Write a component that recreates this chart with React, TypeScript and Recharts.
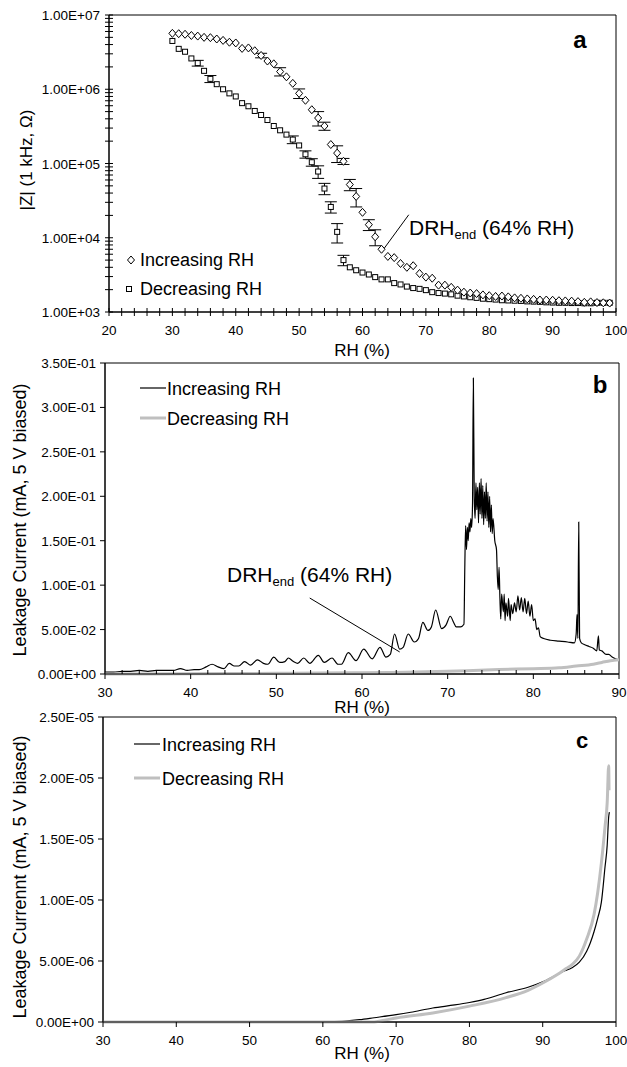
import {
  ErrorBar,
  Line,
  LineChart,
  ReferenceArea,
  ReferenceLine,
  Scatter,
  ScatterChart,
  XAxis,
  YAxis,
} from "recharts";

const FONT = '"Liberation Sans", Arial, sans-serif';
const GRAY = "#bfbfbf";

// ---- panel a: |Z| at 1 kHz vs RH ----
const rhA = [
  30, 31, 32, 33, 34, 35, 36, 37, 38, 39, 40, 41, 42, 43, 44, 45, 46, 47, 48, 49,
  50, 51, 52, 53, 54, 55, 56, 57, 58, 59, 60, 61, 62, 63, 64, 65, 66, 67, 68, 69,
  70, 71, 72, 73, 74, 75, 76, 77, 78, 79, 80, 81, 82, 83, 84, 85, 86, 87, 88, 89,
  90, 91, 92, 93, 94, 95, 96, 97, 98, 99,
];
const zIncreasing = [
  5.66e6, 5.6e6, 5.5e6, 5.3e6, 5.2e6, 5.0e6, 4.95e6, 4.75e6, 4.55e6, 4.3e6,
  4.2e6, 3.55e6, 3.6e6, 3.3e6, 2.85e6, 2.4e6, 2.2e6, 1.73e6, 1.47e6, 1.2e6,
  8.8e5, 7.1e5, 5.3e5, 4.1e5, 3.2e5, 1.8e5, 1.38e5, 1.07e5, 5.2e4, 3.6e4,
  2.2e4, 1.5e4, 1.03e4, 7.0e3, 5.6e3, 5.4e3, 4.5e3, 4.0e3, 4.2e3, 3.3e3,
  2.95e3, 2.85e3, 2.3e3, 2.3e3, 2.15e3, 1.97e3, 1.85e3, 1.8e3, 1.77e3, 1.7e3,
  1.66e3, 1.62e3, 1.64e3, 1.6e3, 1.55e3, 1.53e3, 1.5e3, 1.48e3, 1.45e3, 1.45e3,
  1.44e3, 1.42e3, 1.41e3, 1.4e3, 1.38e3, 1.35e3, 1.37e3, 1.34e3, 1.33e3, 1.32e3,
];
const zDecreasing = [
  4.47e6, 3.5e6, 3.2e6, 2.6e6, 2.25e6, 1.77e6, 1.38e6, 1.17e6, 1.0e6, 8.8e5,
  8.0e5, 6.5e5, 5.9e5, 5.1e5, 4.5e5, 3.85e5, 3.2e5, 2.8e5, 2.45e5, 2.1e5,
  1.75e5, 1.33e5, 1.04e5, 7.8e4, 4.6e4, 2.6e4, 1.2e4, 5.0e3, 4.0e3, 3.65e3,
  3.4e3, 3.2e3, 2.95e3, 2.75e3, 2.75e3, 2.45e3, 2.35e3, 2.2e3, 2.1e3, 2.05e3,
  1.97e3, 1.85e3, 1.8e3, 1.77e3, 1.73e3, 1.66e3, 1.62e3, 1.58e3, 1.55e3, 1.51e3,
  1.49e3, 1.47e3, 1.44e3, 1.43e3, 1.42e3, 1.41e3, 1.39e3, 1.38e3, 1.37e3, 1.35e3,
  1.34e3, 1.33e3, 1.33e3, 1.32e3, 1.32e3, 1.31e3, 1.31e3, 1.33e3, 1.33e3, 1.33e3,
];
// error bars (only where visible)
const errIncRH = [44, 47, 50, 53, 54, 56, 57, 58, 59, 61, 62];
const errIncVal = [2.0e5, 2.2e5, 1.3e5, 0.9e5, 0.4e5, 0.35e5, 1.0e4, 0.9e4, 1.0e4, 2.5e3, 2.5e3];
const errDecRH = [34, 36, 49, 51, 52, 53, 54, 55, 56, 57];
const errDecVal = [2.0e5, 1.5e5, 2.5e4, 1.5e4, 1.2e4, 1.5e4, 0.8e4, 0.45e4, 3.5e3, 0.8e3];

const xTicksA = [
  20, 22, 24, 26, 28, 30, 32, 34, 36, 38, 40, 42, 44, 46, 48, 50, 52, 54, 56, 58, 60,
  62, 64, 66, 68, 70, 72, 74, 76, 78, 80, 82, 84, 86, 88, 90, 92, 94, 96, 98, 100,
];
const yTicksA = [
  1e3, 2e3, 3e3, 4e3, 5e3, 6e3, 7e3, 8e3, 9e3,
  1e4, 2e4, 3e4, 4e4, 5e4, 6e4, 7e4, 8e4, 9e4,
  1e5, 2e5, 3e5, 4e5, 5e5, 6e5, 7e5, 8e5, 9e5,
  1e6, 2e6, 3e6, 4e6, 5e6, 6e6, 7e6, 8e6, 9e6,
  1e7,
];

// ---- panel b: leakage current vs RH (30-90) ----
const bIncRH = [
  30, 31, 32, 33, 34, 35, 36, 37, 38, 38.8, 39.6, 40.4, 41, 41.8, 42.5, 43.2, 43.9,
  44.5, 45.1, 45.6, 46.3, 47, 47.8, 48.5, 49, 49.7, 50.4, 51, 51.4, 52, 52.5, 53.2,
  53.9, 54.9, 55.6, 56.5, 57.2, 57.6, 58.4, 59.3, 60.2, 61.2, 62.1, 62.8, 63.3, 63.8,
  64.4, 64.8, 65.4, 66.1, 66.6, 67.1, 67.7, 68.1, 68.6, 69.3, 69.8, 70.3, 70.7, 71,
  71.5, 71.9, 72, 72.1, 72.2, 72.3, 72.4, 72.5, 72.6, 72.7, 72.8, 72.9, 73, 73.1,
  73.2, 73.3, 73.4, 73.5, 73.6, 73.7, 73.8, 73.9, 74, 74.1, 74.2, 74.3, 74.4, 74.5,
  74.6, 74.7, 74.8, 74.9, 75, 75.1, 75.2, 75.3, 75.5, 75.7, 75.8, 75.9, 76, 76.1,
  76.2, 76.3, 76.5, 76.6, 76.7, 76.8, 77, 77.1, 77.3, 77.4, 77.6, 77.8, 78, 78.2,
  78.4, 78.6, 78.8, 79, 79.2, 79.4, 79.6, 79.8, 80, 80.2, 80.4, 80.6, 80.8, 81.2,
  82, 83, 84, 84.8, 85, 85.1, 85.2, 85.3, 85.4, 85.6, 86, 86.5, 87, 87.4, 87.6,
  87.7, 88, 88.5, 88.8, 89.2, 89.6, 90,
];
const bIncI = [
  0.002, 0.002, 0.003, 0.003, 0.004, 0.003, 0.004, 0.004, 0.004, 0.006, 0.004, 0.005,
  0.005, 0.008, 0.011, 0.008, 0.006, 0.012, 0.009, 0.009, 0.014, 0.01, 0.016, 0.012,
  0.011, 0.019, 0.013, 0.014, 0.018, 0.014, 0.012, 0.018, 0.012, 0.021, 0.013, 0.018,
  0.011, 0.011, 0.024, 0.015, 0.028, 0.017, 0.03, 0.019, 0.022, 0.045, 0.028, 0.03,
  0.045, 0.036, 0.04, 0.058, 0.049, 0.053, 0.072, 0.051, 0.055, 0.065, 0.058, 0.053,
  0.053, 0.056, 0.12, 0.167, 0.14, 0.165, 0.15, 0.17, 0.16, 0.175, 0.165, 0.19, 0.333,
  0.2, 0.175, 0.215, 0.185, 0.21, 0.17, 0.215, 0.18, 0.22, 0.175, 0.212, 0.168, 0.205,
  0.175, 0.215, 0.172, 0.205, 0.165, 0.2, 0.16, 0.19, 0.158, 0.175, 0.15, 0.14, 0.11,
  0.095, 0.12, 0.085, 0.062, 0.09, 0.07, 0.09, 0.06, 0.08, 0.065, 0.085, 0.06, 0.078,
  0.068, 0.08, 0.07, 0.088, 0.072, 0.086, 0.07, 0.085, 0.068, 0.082, 0.065, 0.078,
  0.06, 0.062, 0.05, 0.052, 0.042, 0.04, 0.038, 0.037, 0.036, 0.035, 0.045, 0.067,
  0.04, 0.171, 0.04, 0.035, 0.033, 0.031, 0.029, 0.026, 0.043, 0.027, 0.026, 0.022,
  0.022, 0.019, 0.017, 0.016,
];
const bDecRH = [30, 40, 50, 55, 60, 65, 70, 73, 76, 80, 83, 85, 87, 88, 89, 90];
const bDecI = [
  0.0, 0.0003, 0.0008, 0.001, 0.0015, 0.002, 0.003, 0.004, 0.005, 0.006, 0.007,
  0.009, 0.011, 0.013, 0.015, 0.016,
];
const xTicksB = [
  30, 32, 34, 36, 38, 40, 42, 44, 46, 48, 50, 52, 54, 56, 58, 60, 62, 64, 66, 68, 70,
  72, 74, 76, 78, 80, 82, 84, 86, 88, 90,
];
const yTicksB = [0, 0.05, 0.1, 0.15, 0.2, 0.25, 0.3, 0.35];

// ---- panel c: leakage current vs RH (30-100) ----
const cIncRH = [
  30, 60, 61, 63, 65, 67, 70, 72, 75, 78, 80, 82, 85, 88, 90, 92, 93, 94, 95, 96,
  96.5, 97, 97.5, 98, 98.5, 98.8, 99, 99.1,
];
const cIncI = [
  0, 0, 0.02e-6, 0.08e-6, 0.19e-6, 0.35e-6, 0.6e-6, 0.8e-6, 1.15e-6, 1.4e-6, 1.6e-6,
  1.85e-6, 2.4e-6, 2.85e-6, 3.3e-6, 3.9e-6, 4.2e-6, 4.45e-6, 4.9e-6, 5.8e-6, 6.5e-6,
  7.4e-6, 8.5e-6, 9.8e-6, 1.27e-5, 1.45e-5, 1.68e-5, 1.72e-5,
];
const cDecRH = [
  30, 67, 68, 70, 75, 80, 85, 88, 90, 92, 93, 94, 95, 96, 97, 97.5, 98, 98.5, 98.8,
  99, 99.05,
];
const cDecI = [
  0, 0, 0.1e-6, 0.33e-6, 0.74e-6, 1.3e-6, 2.0e-6, 2.6e-6, 3.2e-6, 3.9e-6, 4.3e-6,
  4.7e-6, 5.4e-6, 6.8e-6, 8.8e-6, 1.06e-5, 1.3e-5, 1.6e-5, 1.8e-5, 2.1e-5, 1.9e-5,
];
const xTicksC = [30, 40, 50, 60, 70, 80, 90, 100];
const yTicksC = [0, 5e-6, 1e-5, 1.5e-5, 2e-5, 2.5e-5];

// build series
const aInc = rhA.map((rh, i) => {
  const k = errIncRH.indexOf(rh);
  return { rh, z: zIncreasing[i], err: k >= 0 ? errIncVal[k] : null };
});
const aDec = rhA.map((rh, i) => {
  const k = errDecRH.indexOf(rh);
  return { rh, z: zDecreasing[i], err: k >= 0 ? errDecVal[k] : null };
});
const bInc = bIncRH.map((rh, i) => ({ rh, i: bIncI[i] }));
const bDec = bDecRH.map((rh, i) => ({ rh, i: bDecI[i] }));
const cInc = cIncRH.map((rh, i) => ({ rh, i: cIncI[i] }));
const cDec = cDecRH.map((rh, i) => ({ rh, i: cDecI[i] }));

const sci = (v: number) => {
  const [m, e] = v.toExponential(2).split("e");
  const sign = e[0] === "-" ? "-" : "+";
  const digits = e.replace(/[+-]/, "").padStart(2, "0");
  return `${m}E${sign}${digits}`;
};

const isDecade = (v: number) => Math.abs(Math.log10(v) - Math.round(Math.log10(v))) < 1e-9;

type TickOpts = {
  major: (v: number) => boolean;
  label: (v: number) => string;
  inMajor: number;
  outMajor: number;
  inMinor: number;
  outMinor: number;
};

const makeXTick = (o: TickOpts) => (props: any) => {
  const { x, y, payload } = props;
  const v = payload.value;
  const mj = o.major(v);
  return (
    <g>
      <line x1={x} x2={x} y1={y - (mj ? o.inMajor : o.inMinor)} y2={y + (mj ? o.outMajor : o.outMinor)} stroke="#000" />
      {mj && (
        <text x={x} y={y + 23} textAnchor="middle" fontSize={13.5} fontFamily={FONT} fill="#000">
          {o.label(v)}
        </text>
      )}
    </g>
  );
};

const makeYTick = (o: TickOpts) => (props: any) => {
  const { x, y, payload } = props;
  const v = payload.value;
  const mj = o.major(v);
  return (
    <g>
      <line x1={x - (mj ? o.outMajor : o.outMinor)} x2={x + (mj ? o.inMajor : o.inMinor)} y1={y} y2={y} stroke="#000" />
      {mj && (
        <text x={x - 9} y={y + 5} textAnchor="end" fontSize={13.5} fontFamily={FONT} fill="#000">
          {o.label(v)}
        </text>
      )}
    </g>
  );
};

const Diamond = (p: any) => (
  <path
    d={`M${p.cx},${p.cy - 4}L${p.cx + 3.5},${p.cy}L${p.cx},${p.cy + 4}L${p.cx - 3.5},${p.cy}Z`}
    fill="#fff"
    stroke="#000"
    strokeWidth={1}
  />
);
const Square = (p: any) => (
  <rect x={p.cx - 2.5} y={p.cy - 2.5} width={5} height={5} fill="#fff" stroke="#000" strokeWidth={1} />
);

const txt = { fontFamily: FONT, fill: "#000" };

const App = () => {
  return (
    <div style={{ position: "absolute", left: 0, top: 0, width: 627, height: 1067, background: "#fff" }}>
      {/* a */}
      <div style={{ position: "absolute", left: 0, top: 0 }}>
        <ScatterChart width={627} height={350} margin={{ top: 15, right: 11, bottom: 37, left: 108 }}>
          <XAxis
            type="number"
            dataKey="rh"
            domain={[20, 100]}
            ticks={xTicksA}
            interval={0}
            height={1}
            tickSize={0}
            tickMargin={0}
            stroke="#000"
            tick={makeXTick({ major: (v) => v % 10 === 0, label: String, inMajor: 4, outMajor: 4, inMinor: 4, outMinor: 4 })}
          />
          <YAxis
            type="number"
            dataKey="z"
            scale="log"
            domain={[1000, 1e7]}
            allowDataOverflow
            ticks={yTicksA}
            interval={0}
            width={1}
            tickSize={0}
            tickMargin={0}
            stroke="#000"
            tick={makeYTick({ major: isDecade, label: sci, inMajor: 4, outMajor: 4, inMinor: 4, outMinor: 4 })}
          />
          <ReferenceArea x1={20} x2={100} y1={1000} y2={1e7} fill="none" stroke="#000" strokeWidth={1} />
          <Scatter data={aDec} shape={Square} isAnimationActive={false}>
            <ErrorBar dataKey="err" direction="y" width={6} stroke="#000" strokeWidth={1} />
          </Scatter>
          <Scatter data={aInc} shape={Diamond} isAnimationActive={false}>
            <ErrorBar dataKey="err" direction="y" width={6} stroke="#000" strokeWidth={1} />
          </Scatter>
          <ReferenceLine
            segment={[
              { x: 63.1, y: 6600 },
              { x: 67.3, y: 20400 },
            ]}
            stroke="#000"
            strokeWidth={1}
          />
        </ScatterChart>
      </div>

      {/* b */}
      <div style={{ position: "absolute", left: 0, top: 340 }}>
        <LineChart width={627} height={370} margin={{ top: 23, right: 8, bottom: 35, left: 104 }}>
          <XAxis
            type="number"
            dataKey="rh"
            domain={[30, 90]}
            ticks={xTicksB}
            interval={0}
            height={1}
            tickSize={0}
            tickMargin={0}
            stroke="#000"
            allowDuplicatedCategory={false}
            tick={makeXTick({ major: (v) => v % 10 === 0, label: String, inMajor: 0, outMajor: 5, inMinor: 4, outMinor: 0 })}
          />
          <YAxis
            type="number"
            domain={[0, 0.35]}
            ticks={yTicksB}
            interval={0}
            width={1}
            tickSize={0}
            tickMargin={0}
            stroke="#000"
            tick={makeYTick({ major: () => true, label: sci, inMajor: 0, outMajor: 5, inMinor: 0, outMinor: 0 })}
          />
          <ReferenceArea x1={30} x2={90} y1={0} y2={0.35} fill="none" stroke="#000" strokeWidth={1} />
          <Line data={bInc} dataKey="i" type="monotone" stroke="#000" strokeWidth={1.2} dot={false} isAnimationActive={false} />
          <Line data={bDec} dataKey="i" type="monotone" stroke={GRAY} strokeWidth={3} dot={false} isAnimationActive={false} />
          <ReferenceLine
            segment={[
              { x: 53.9, y: 0.0855 },
              { x: 64.4, y: 0.0248 },
            ]}
            stroke="#000"
            strokeWidth={1}
          />
        </LineChart>
      </div>

      {/* c */}
      <div style={{ position: "absolute", left: 0, top: 700 }}>
        <LineChart width={627} height={367} margin={{ top: 17, right: 11, bottom: 44, left: 102 }}>
          <XAxis
            type="number"
            dataKey="rh"
            domain={[30, 100]}
            ticks={xTicksC}
            interval={0}
            height={1}
            tickSize={0}
            tickMargin={0}
            stroke="#000"
            allowDuplicatedCategory={false}
            tick={makeXTick({ major: () => true, label: String, inMajor: 0, outMajor: 5, inMinor: 0, outMinor: 0 })}
          />
          <YAxis
            type="number"
            domain={[0, 2.5e-5]}
            ticks={yTicksC}
            interval={0}
            width={1}
            tickSize={0}
            tickMargin={0}
            stroke="#000"
            tick={makeYTick({ major: () => true, label: sci, inMajor: 0, outMajor: 5, inMinor: 0, outMinor: 0 })}
          />
          <ReferenceArea x1={30} x2={100} y1={0} y2={2.5e-5} fill="none" stroke="#000" strokeWidth={1} />
          <Line data={cInc} dataKey="i" type="monotone" stroke="#000" strokeWidth={1.2} dot={false} isAnimationActive={false} />
          <Line data={cDec} dataKey="i" type="monotone" stroke={GRAY} strokeWidth={3} dot={false} isAnimationActive={false} />
        </LineChart>
      </div>

      {/* titles, legends, annotations */}
      <svg width={627} height={1067} style={{ position: "absolute", left: 0, top: 0, pointerEvents: "none" }}>
        {/* a */}
        <text {...txt} fontSize={17} textAnchor="middle" transform="translate(32,160) rotate(-90)">
          |Z| (1 kHz, Ω)
        </text>
        <text {...txt} fontSize={17} x={362} y={356} textAnchor="middle">RH (%)</text>
        <text {...txt} fontSize={24} fontWeight="bold" x={580} y={48} textAnchor="middle">a</text>
        <Diamond cx={131} cy={260} />
        <text {...txt} fontSize={18} x={140} y={266}>Increasing RH</text>
        <Square cx={129} cy={289} />
        <text {...txt} fontSize={18} x={140} y={295}>Decreasing RH</text>
        <text {...txt} fontSize={21} x={409} y={235}>
          DRH<tspan fontSize={13} dy={4}>end</tspan>
          <tspan dy={-4}> (64% RH)</tspan>
        </text>

        {/* b */}
        <text {...txt} fontSize={18} textAnchor="middle" transform="translate(26,520) rotate(-90)">
          Leakage Current (mA, 5 V biased)
        </text>
        <text {...txt} fontSize={17} x={362} y={713} textAnchor="middle">RH (%)</text>
        <text {...txt} fontSize={24} fontWeight="bold" x={600} y={393} textAnchor="middle">b</text>
        <line x1={140} x2={166} y1={388} y2={388} stroke="#000" strokeWidth={1.2} />
        <text {...txt} fontSize={18} x={167} y={395}>Increasing RH</text>
        <line x1={140} x2={166} y1={418} y2={418} stroke={GRAY} strokeWidth={3} />
        <text {...txt} fontSize={18} x={167} y={425}>Decreasing RH</text>
        <text {...txt} fontSize={21} x={227} y={582}>
          DRH<tspan fontSize={13} dy={4}>end</tspan>
          <tspan dy={-4}> (64% RH)</tspan>
        </text>

        {/* c */}
        <text {...txt} fontSize={18} textAnchor="middle" transform="translate(26,877) rotate(-90)">
          Leakage Currennt (mA, 5 V biased)
        </text>
        <text {...txt} fontSize={17} x={362} y={1059} textAnchor="middle">RH (%)</text>
        <text {...txt} fontSize={22} fontWeight="bold" x={582} y={748} textAnchor="middle">c</text>
        <line x1={134} x2={160} y1={744} y2={744} stroke="#000" strokeWidth={1.2} />
        <text {...txt} fontSize={18} x={162} y={751}>Increasing RH</text>
        <line x1={134} x2={160} y1={778} y2={778} stroke={GRAY} strokeWidth={3} />
        <text {...txt} fontSize={18} x={162} y={785}>Decreasing RH</text>
      </svg>
    </div>
  );
};

export default App;
